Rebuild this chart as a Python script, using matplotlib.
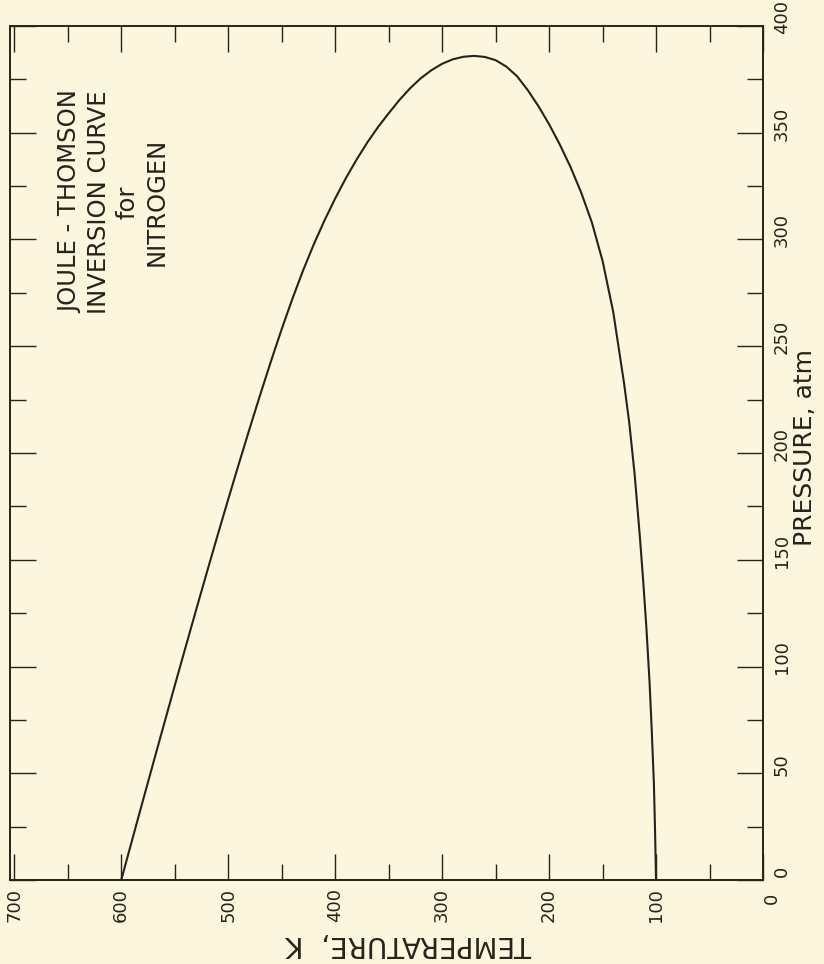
import matplotlib
matplotlib.use("Agg")
import matplotlib.pyplot as plt
from matplotlib.ticker import FixedLocator, MultipleLocator
from matplotlib.transforms import ScaledTranslation

# ---- data ----
temperature_K = [600, 590, 580, 570, 560, 550, 540, 530, 520, 510, 500, 490,
                 480, 470, 460, 450, 440, 430, 420, 410, 400, 390, 380, 370,
                 360, 350, 340, 330, 320, 310, 300, 290, 280, 270, 260, 250,
                 240, 230, 220, 210, 200, 190, 180, 170, 160, 150, 140, 130,
                 125, 120, 115, 112, 109, 106, 104, 102, 101, 100]
pressure_atm = [0, 18.4, 36.7, 54.9, 73.0, 91.0, 108.8, 126.5, 144.0, 161.3,
                178.3, 195.0, 211.4, 227.4, 243.0, 258.0, 272.2, 285.5, 297.7,
                308.9, 319.2, 328.7, 337.4, 345.4, 352.6, 359.1, 365.3, 370.8,
                375.5, 379.3, 382.3, 384.4, 385.6, 386.0, 385.5, 384.0, 381.0,
                376.5, 370.0, 362.5, 354.0, 344.5, 334.0, 322.0, 308.0, 290.0,
                266.0, 233.0, 214.0, 190.0, 160.0, 140.0, 118.0, 92.0, 70.0,
                45.0, 25.0, 0.0]

temp_ticks = [700, 600, 500, 400, 300, 200, 100, 0]
temp_labels = ["700", "600", "500", "400", "300", "200", "100", "0"]
press_ticks = [0, 50, 100, 150, 200, 250, 300, 350, 400]
press_labels = ["0", "50", "100", "150", "200", "250", "300", "350", "400"]

title_text = "JOULE - THOMSON\nINVERSION CURVE\nfor\nNITROGEN"
xlabel_text = "TEMPERATURE,  K"
ylabel_text = "PRESSURE, atm"

BG = "#fcf6de"
INK = "#26231c"

W, H = 824, 964
fig = plt.figure(figsize=(W / 100, H / 100), dpi=100, facecolor=BG)
L, R, T, B = 10, 763, 26, 880
ax = fig.add_axes([L / W, 1 - B / H, (R - L) / W, (B - T) / H])
ax.set_facecolor(BG)

ax.plot(temperature_K, pressure_atm, color=INK, lw=1.5,
        solid_capstyle="round", solid_joinstyle="round")

ax.set_xlim(704, 0)
ax.set_ylim(0, 400)

ax.xaxis.set_major_locator(FixedLocator(temp_ticks))
ax.xaxis.set_minor_locator(MultipleLocator(50))
ax.yaxis.set_major_locator(FixedLocator(press_ticks))
ax.yaxis.set_minor_locator(MultipleLocator(25))
ax.set_xticklabels(temp_labels)
ax.set_yticklabels(press_labels)

for s in ax.spines.values():
    s.set_linewidth(1.4)
    s.set_color(INK)

ax.tick_params(axis="both", which="major", direction="in", length=19, width=1.0,
               color=INK, top=True, bottom=True, left=True, right=True)
ax.tick_params(axis="both", which="minor", direction="in", length=11.5, width=1.0,
               color=INK, top=True, bottom=True, left=True, right=True)
ax.tick_params(axis="x", which="major", labelrotation=90, labelsize=13,
               labelcolor=INK, pad=6)
ax.tick_params(axis="y", which="major", labelleft=False, labelright=True,
               labelrotation=90, labelsize=13, labelcolor=INK, pad=7)

for t in ax.yaxis.get_major_ticks():
    t.label2.set_verticalalignment("center")
    t.label2.set_transform(t.label2.get_transform() +
                           ScaledTranslation(0, 9 / 100, fig.dpi_scale_trans))
for t in ax.xaxis.get_major_ticks():
    if t.label1.get_text() == "0":
        t.label1.set_transform(t.label1.get_transform() +
                               ScaledTranslation(9 / 100, -4 / 100, fig.dpi_scale_trans))

fig.text(113 / W, 1 - 202 / H, title_text, rotation=90, ha="center", va="center",
         multialignment="center", fontsize=17.5, linespacing=1.25, color=INK)
fig.text(805 / W, 1 - 447 / H, ylabel_text, rotation=90, ha="center", va="center",
         fontsize=18, color=INK)
fig.text(409 / W, 1 - 944 / H, xlabel_text, rotation=180, ha="center", va="center",
         fontsize=20, color=INK)

fig.savefig("out.png", dpi=100, facecolor=BG)
